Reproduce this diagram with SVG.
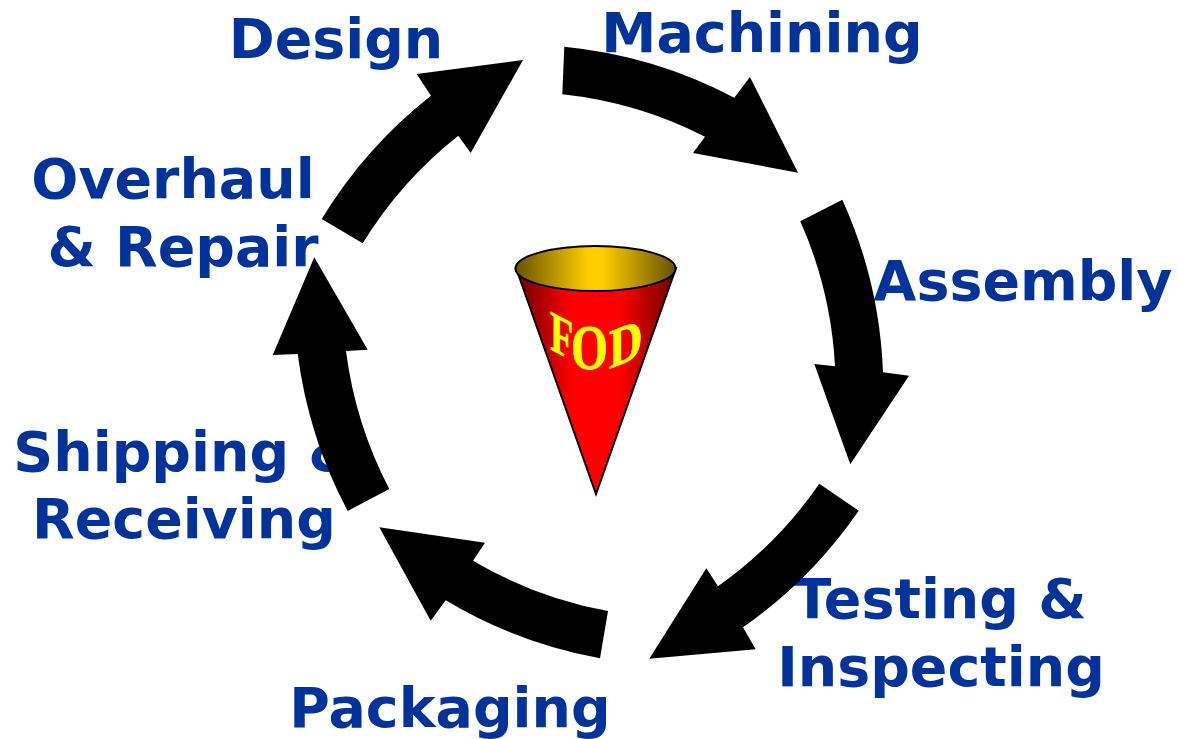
<svg xmlns="http://www.w3.org/2000/svg" width="1178" height="739" viewBox="0 0 1178 739">
<style>
.l{font-family:"DejaVu Sans",Verdana,sans-serif;font-weight:bold;font-size:55.4px;fill:#003399;text-anchor:middle}
.a{fill:#000}
.f{font-family:"Liberation Serif",serif;font-weight:bold;fill:#ffff00;stroke:#ffff00;stroke-width:.6px;font-size:50px}
</style>
<defs>
<linearGradient id="r" x1="0" x2="1" y1="0" y2="0"><stop offset="0" stop-color="#6e0000"/><stop offset="0.36" stop-color="#ff0000"/><stop offset="0.64" stop-color="#ff0000"/><stop offset="1" stop-color="#6e0000"/></linearGradient>
<linearGradient id="y" x1="0" x2="1" y1="0" y2="0"><stop offset="0" stop-color="#665200"/><stop offset="0.45" stop-color="#ffcc00"/><stop offset="0.55" stop-color="#ffcc00"/><stop offset="1" stop-color="#665200"/></linearGradient>
</defs>
<g id="cone">
<path d="M516 268L596 494L676 268Z" fill="url(#r)" stroke="#000" stroke-width="2"/>
<ellipse cx="595.5" cy="268.5" rx="80" ry="22.5" fill="url(#y)" stroke="#000" stroke-width="2"/>
<text class="f" transform="translate(550 349) skewY(28) scale(.76 1.15)">F</text>
<text class="f" transform="translate(571 369) scale(.95 1.25)">O</text>
<text class="f" transform="translate(609 369) skewY(-22) scale(.93 1.12)">D</text>
</g>
<g id="design"><text class="l" x="336" y="58">Design</text></g>
<g id="machining"><text class="l" x="762" y="52">Machining</text></g>
<g id="assembly"><text class="l" x="1023" y="300">Assembly</text></g>
<g id="testing"><text class="l" x="940" y="618">Testing &amp;</text><text class="l" x="941" y="686">Inspecting</text></g>
<g id="packaging"><text class="l" x="450" y="727">Packaging</text></g>
<g id="shipping"><text class="l" x="185" y="471">Shipping &amp;</text><text class="l" x="184" y="538">Receiving</text></g>
<g id="overhaul"><text class="l" x="173" y="198">Overhaul</text><text class="l" x="183" y="266">&amp; Repair</text></g>
<g id="connectors">
<path class="a" d="M564.3 46.7A460 460 0 0 1 734.3 97.7L750 77L798 172.7L693 153L705 136.7A410 410 0 0 0 562.3 94.3Z"/>
<path class="a" d="M842.3 199.7A460 460 0 0 1 883 372.3L909 375.7L850.3 464.3L814.3 364L835 366.3A410 410 0 0 0 800.3 221.3Z"/>
<path class="a" d="M858.7 510.7A460 460 0 0 1 743 627.3L755.7 649.3L649.3 658.7L706.3 568.3L718 586.3A410 410 0 0 0 819.3 483.7Z"/>
<path class="a" d="M600 658.3A460 460 0 0 1 445.7 600.3L430.7 620.7L379.3 527.3L485 542.7L473 560.7A410 410 0 0 0 608 611Z"/>
<path class="a" d="M347.7 511A460 460 0 0 1 297.7 354L272.7 355L314.3 257.3L367.7 349.7L346 351A410 410 0 0 0 389.3 489Z"/>
<path class="a" d="M321.7 219A460 460 0 0 1 431 95.7L416.7 74L523 60L470.7 153L458.3 135.7A410 410 0 0 0 362.7 243.3Z"/>
</g>
</svg>
